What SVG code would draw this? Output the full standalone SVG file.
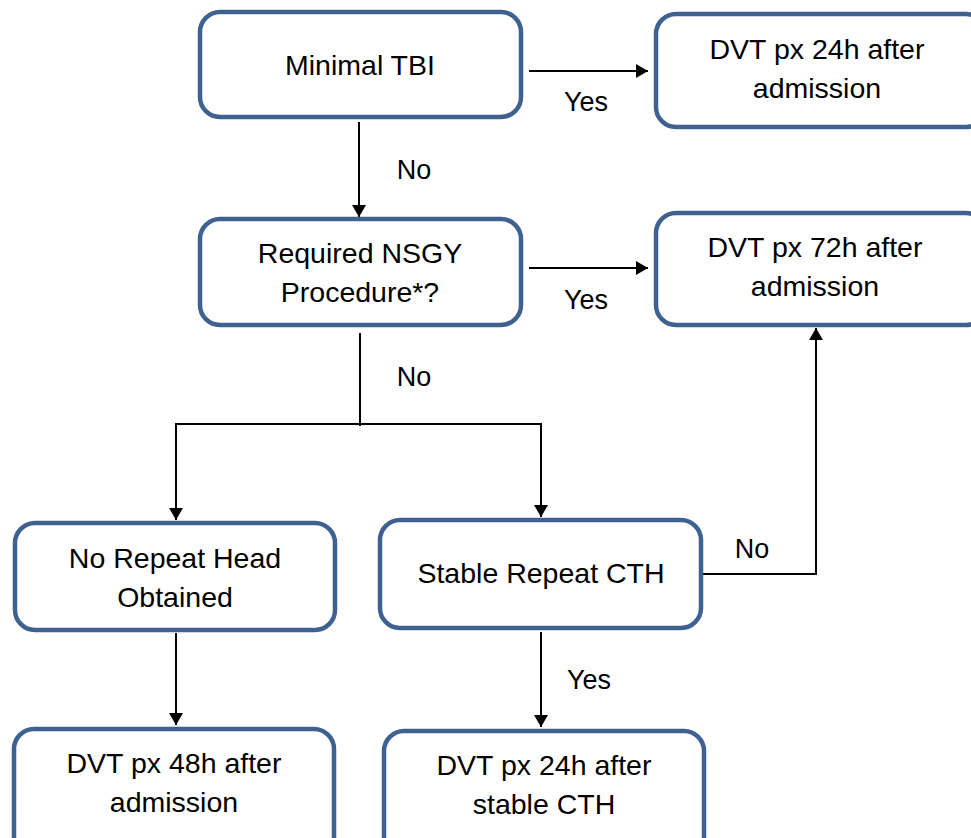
<svg xmlns="http://www.w3.org/2000/svg" width="971" height="838" viewBox="0 0 971 838">
<defs>
<marker id="ah" viewBox="0 0 12 14" refX="12" refY="7" markerWidth="12" markerHeight="14" markerUnits="userSpaceOnUse" orient="auto">
<path d="M0,0 L12,7 L0,14 Z" fill="#000"/>
</marker>
<style>
.box{fill:#fff;stroke:#3f6190;stroke-width:4.5}
.t{font-family:"Liberation Sans",Arial,sans-serif;font-size:28.5px;fill:#000;text-anchor:middle}
.l{font-family:"Liberation Sans",Arial,sans-serif;font-size:27px;fill:#000;text-anchor:middle}
.c{fill:none;stroke:#000;stroke-width:2}
</style>
</defs>
<rect width="971" height="838" fill="#fff"/>
<g id="connectors">
<line class="c" x1="529" y1="71" x2="648" y2="71" marker-end="url(#ah)"/>
<line class="c" x1="359" y1="122" x2="359" y2="217" marker-end="url(#ah)"/>
<line class="c" x1="529" y1="268" x2="648" y2="268" marker-end="url(#ah)"/>
<line class="c" x1="360" y1="333" x2="360" y2="426"/>
<polyline class="c" points="176,520 176,424 541,424 541,517" marker-end="url(#ah)"/>
<line class="c" x1="176" y1="450" x2="176" y2="520" marker-end="url(#ah)"/>
<polyline class="c" points="703,574 816,574 816,328" marker-end="url(#ah)"/>
<line class="c" x1="541" y1="632" x2="541" y2="727" marker-end="url(#ah)"/>
<line class="c" x1="176" y1="633" x2="176" y2="725" marker-end="url(#ah)"/>
<text class="l" x="586" y="111">Yes</text>
<text class="l" x="414" y="179">No</text>
<text class="l" x="586" y="309">Yes</text>
<text class="l" x="414" y="386">No</text>
<text class="l" x="752" y="558">No</text>
<text class="l" x="589" y="689">Yes</text>
</g>
<g id="n1"><rect class="box" x="200" y="12" width="321" height="105" rx="20"/><text class="t" x="360" y="75">Minimal TBI</text></g>
<g id="n2"><rect class="box" x="656" y="14" width="330" height="113" rx="20"/><text class="t" x="817" y="59">DVT px 24h after</text><text class="t" x="817" y="98">admission</text></g>
<g id="n3"><rect class="box" x="200" y="219" width="321" height="106" rx="20"/><text class="t" x="360" y="263">Required NSGY</text><text class="t" x="360" y="302">Procedure*?</text></g>
<g id="n4"><rect class="box" x="656" y="213" width="330" height="112" rx="20"/><text class="t" x="815" y="257">DVT px 72h after</text><text class="t" x="815" y="296">admission</text></g>
<g id="n5"><rect class="box" x="15" y="523" width="320" height="107" rx="20"/><text class="t" x="175" y="568">No Repeat Head</text><text class="t" x="175" y="607">Obtained</text></g>
<g id="n6"><rect class="box" x="380" y="520" width="321" height="108" rx="20"/><text class="t" x="541" y="583">Stable Repeat CTH</text></g>
<g id="n7"><rect class="box" x="14" y="729" width="320" height="130" rx="20"/><text class="t" x="174" y="773">DVT px 48h after</text><text class="t" x="174" y="812">admission</text></g>
<g id="n8"><rect class="box" x="384" y="731" width="320" height="130" rx="20"/><text class="t" x="544" y="775">DVT px 24h after</text><text class="t" x="544" y="814">stable CTH</text></g>
</svg>
